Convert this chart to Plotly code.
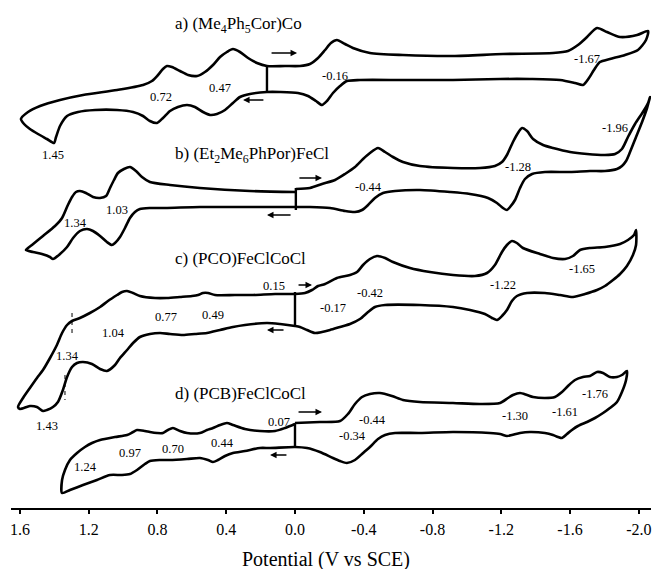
import plotly.graph_objects as go

# ---- data: potential (V vs SCE) and current (arbitrary units, traces offset vertically) ----
a_E = [0.163,0.058,-0.029,-0.087,-0.134,-0.175,-0.209,-0.244,-0.291,-0.337,-0.436,-0.628,-0.919,-1.210,-1.501,-1.588,-1.646,-1.699,-1.757,-1.815,-1.891,-1.990,-2.054,
       -2.042,-1.995,-1.920,-1.832,-1.774,-1.739,-1.710,-1.675,-1.629,-1.542,-1.367,-1.193,-0.919,-0.628,-0.378,-0.302,-0.262,-0.221,-0.186,-0.157,-0.122,-0.076,-0.017,0.087,0.163,
       0.262,0.320,0.361,0.407,0.454,0.494,0.535,0.582,0.628,0.681,0.727,0.768,0.803,0.844,0.884,0.942,1.035,1.163,1.262,1.326,1.367,1.390,1.402,1.443,1.495,1.542,1.576,1.594,
       1.553,1.483,1.367,1.233,1.035,0.884,0.832,0.797,0.768,0.745,0.716,0.669,0.622,0.570,0.524,0.477,0.436,0.396,0.361,0.320,0.273,0.221,0.163]
a_I = [442,442,442,444,450,458,465,468,464,460,455,453,452,454,455,457,463,471,480,476,471,473,477,
       468,458,453,449,446,438,430,423,425,428,429,429,428,428,428,427,422,415,407,403,407,412,415,416,416,
       414,411,405,398,394,393,396,401,403,401,397,390,385,387,392,396,398,398,396,392,382,371,365,369,374,379,384,389,
       396,402,408,413,418,423,427,433,439,442,441,437,433,432,436,443,451,456,459,456,450,445,442]

b_E = [-0.005,-0.087,-0.157,-0.233,-0.291,-0.349,-0.396,-0.436,-0.483,-0.524,-0.570,-0.628,-0.727,-0.919,-1.076,-1.163,-1.204,-1.233,-1.268,-1.297,-1.321,-1.350,-1.385,-1.443,-1.501,-1.600,-1.699,-1.803,-1.862,-1.902,-1.937,-1.978,-2.024,-2.054,-2.065,
       -2.048,-2.019,-1.984,-1.949,-1.926,-1.902,-1.873,-1.803,-1.716,-1.600,-1.454,-1.379,-1.338,-1.309,-1.280,-1.251,-1.233,-1.210,-1.175,-1.123,-1.018,-0.902,-0.727,-0.582,-0.512,-0.465,-0.425,-0.390,-0.349,-0.291,-0.204,-0.087,-0.005,
       0.262,0.553,0.756,0.844,0.902,0.931,0.960,0.989,1.018,1.047,1.065,1.094,1.134,1.175,1.210,1.251,1.291,1.326,1.367,1.408,1.425,1.472,1.524,1.565,
       1.530,1.466,1.396,1.355,1.321,1.297,1.274,1.251,1.216,1.175,1.134,1.099,1.076,1.053,1.030,0.995,0.960,0.925,0.890,0.844,0.727,0.553,0.262,-0.005]
b_I = [319,320,324,328,334,341,349,355,360,356,351,346,342,340,340,342,346,353,366,375,380,377,369,363,360,356,354,353,354,359,371,384,396,405,411,
       400,386,371,356,347,342,339,337,337,336,336,334,329,320,308,301,298,300,305,310,314,316,318,317,315,310,303,298,296,297,300,301,301,
       301,301,300,300,299,296,290,280,271,265,263,266,272,277,279,277,270,261,254,249,251,254,256,258,
       263,272,282,290,303,311,316,317,315,311,310,312,320,328,335,339,341,337,331,326,323,320,317,316]

c_E = [0.000,-0.058,-0.099,-0.134,-0.175,-0.244,-0.320,-0.361,-0.396,-0.436,-0.477,-0.524,-0.570,-0.669,-0.785,-0.919,-1.047,-1.117,-1.163,-1.204,-1.233,-1.262,-1.291,-1.326,-1.425,-1.501,-1.571,-1.617,-1.658,-1.716,-1.803,-1.891,-1.937,-1.972,-1.984,
       -1.984,-1.966,-1.931,-1.891,-1.850,-1.803,-1.757,-1.687,-1.617,-1.542,-1.454,-1.350,-1.291,-1.262,-1.233,-1.204,-1.175,-1.146,-1.105,-1.018,-0.919,-0.727,-0.524,-0.465,-0.425,-0.378,-0.320,-0.262,-0.204,-0.157,-0.116,-0.070,-0.029,0.000,
       0.087,0.163,0.291,0.361,0.436,0.512,0.582,0.652,0.727,0.785,0.844,0.902,0.942,0.977,1.018,1.047,1.094,1.134,1.181,1.233,1.268,1.297,1.326,1.350,1.379,1.408,1.443,1.466,1.501,1.542,1.600,
       1.611,1.582,1.542,1.501,1.466,1.425,1.385,1.355,1.326,1.297,1.251,1.193,1.134,1.088,1.035,1.006,0.977,0.942,0.902,0.814,0.745,0.669,0.599,0.564,0.535,0.506,0.465,0.349,0.244,0.116,0.000]
c_I = [214,215,218,222,224,230,233,236,243,249,252,250,246,240,236,233,232,235,243,256,263,267,265,260,254,250,249,252,258,260,261,264,268,273,278,
       263,253,242,234,228,222,218,214,211,213,215,215,212,207,198,192,188,190,194,198,201,203,203,201,196,189,184,181,178,176,175,178,181,182,
       184,185,183,181,178,175,174,173,174,175,174,171,165,158,150,143,137,139,144,146,145,141,131,118,106,101,98,97,101,102,99,
       101,110,120,130,138,150,163,175,183,187,190,195,201,207,213,216,217,215,212,210,210,211,212,213,215,215,213,213,213,214,214]

d_E = [0.000,-0.145,-0.262,-0.308,-0.349,-0.390,-0.436,-0.494,-0.564,-0.628,-0.727,-0.919,-1.076,-1.193,-1.239,-1.268,-1.309,-1.350,-1.385,-1.454,-1.512,-1.553,-1.588,-1.629,-1.675,-1.716,-1.757,-1.792,-1.832,-1.873,-1.902,-1.931,
       -1.926,-1.902,-1.873,-1.832,-1.792,-1.745,-1.699,-1.646,-1.611,-1.582,-1.553,-1.530,-1.501,-1.454,-1.367,-1.309,-1.262,-1.233,-1.193,-1.134,-0.919,-0.727,-0.582,-0.524,-0.483,-0.436,-0.396,-0.349,-0.302,-0.262,-0.221,-0.145,-0.070,0.000,
       0.145,0.204,0.291,0.361,0.407,0.448,0.477,0.506,0.553,0.628,0.727,0.785,0.844,0.873,0.919,0.960,1.006,1.076,1.152,1.233,1.309,1.355,
       1.355,1.338,1.309,1.268,1.222,1.181,1.134,1.047,0.977,0.942,0.919,0.873,0.844,0.803,0.768,0.739,0.710,0.669,0.628,0.553,0.512,0.477,0.436,0.396,0.361,0.291,0.204,0.116,0.058,0.000]
d_I = [85,86,87,94,104,111,114,115,112,108,106,105,104,105,110,113,115,113,111,110,111,116,122,128,131,132,136,135,131,131,133,137,
       128,116,106,100,95,90,86,82,78,74,70,71,73,75,76,75,73,72,74,75,76,75,75,73,69,61,55,48,45,47,50,56,60,61,
       60,60,57,55,52,48,46,48,50,49,48,48,47,44,38,34,33,33,28,23,18,15,
       28,38,48,55,61,65,68,71,73,76,78,77,76,75,75,78,80,77,75,75,78,80,83,85,83,79,77,77,80,84]

# initial-potential current steps (E, I_top, I_bottom)
start_E = [0.163, -0.005, 0.000, 0.000]
start_I_top = [443, 320, 216, 85]
start_I_bot = [415, 298, 181, 61]

# dashed markers in trace c
dash_E = [1.297, 1.338]
dash_I_top = [195, 133]
dash_I_bot = [175, 108]

compounds = ["a) (Me<sub>4</sub>Ph<sub>5</sub>Cor)Co",
             "b) (Et<sub>2</sub>Me<sub>6</sub>PhPor)FeCl",
             "c) (PCO)FeClCoCl",
             "d) (PCB)FeClCoCl"]
compound_I = [483, 353, 250, 115]

# peak potential labels: (text, E, I)
peak_labels = [
    ("0.72", 0.780, 411), ("0.47", 0.436, 420), ("1.45", 1.408, 353), ("-0.16", -0.233, 432), ("-1.67", -1.699, 449),
    ("1.34", 1.274, 285), ("1.03", 1.035, 298), ("-0.44", -0.425, 321), ("-1.28", -1.297, 341), ("-1.96", -1.862, 380),
    ("0.15", 0.122, 222), ("-0.17", -0.221, 200), ("0.77", 0.750, 191), ("0.49", 0.477, 193), ("1.04", 1.053, 175),
    ("1.34", 1.326, 152), ("1.43", 1.443, 82), ("-0.42", -0.436, 215), ("-1.22", -1.210, 223), ("-1.65", -1.670, 239),
    ("0.07", 0.093, 86), ("1.24", 1.216, 41), ("0.97", 0.960, 55), ("0.70", 0.710, 59), ("0.44", 0.419, 65),
    ("-0.44", -0.448, 88), ("-0.34", -0.332, 72), ("-1.30", -1.280, 92), ("-1.61", -1.571, 96), ("-1.76", -1.745, 114),
]

# scan direction arrows: (E_from, E_to, I)
arrows = [(0.145, -0.012, 455), (0.175, 0.302, 408),
          (-0.017, -0.157, 330), (0.017, 0.163, 293),
          (-0.012, -0.099, 223), (0.058, 0.163, 178),
          (-0.012, -0.157, 96), (0.041, 0.145, 53)]

tick_vals = [1.6, 1.2, 0.8, 0.4, 0.0, -0.4, -0.8, -1.2, -1.6, -2.0]
tick_text = ["1.6", "1.2", "0.8", "0.4", "0.0", "-0.4", "-0.8", "-1.2", "-1.6", "-2.0"]

FONT = "Liberation Serif"

fig = go.Figure()
for E, I in [(a_E, a_I), (b_E, b_I), (c_E, c_I), (d_E, d_I)]:
    fig.add_trace(go.Scatter(x=E, y=I, mode="lines",
                             line=dict(color="black", width=2.6, shape="spline", smoothing=0.7),
                             hoverinfo="skip", showlegend=False))
for e, t, b in zip(start_E, start_I_top, start_I_bot):
    fig.add_trace(go.Scatter(x=[e, e], y=[t, b], mode="lines",
                             line=dict(color="black", width=2.4), showlegend=False, hoverinfo="skip"))
for e, t, b in zip(dash_E, dash_I_top, dash_I_bot):
    fig.add_trace(go.Scatter(x=[e, e], y=[t, b], mode="lines",
                             line=dict(color="black", width=1, dash="4px,4px"), showlegend=False, hoverinfo="skip"))

ann = []
for txt, yy in zip(compounds, compound_I):
    ann.append(dict(x=0.71, y=yy, xref="x", yref="y", text=txt, showarrow=False,
                    xanchor="left", yanchor="middle", font=dict(family=FONT, size=17, color="black")))
for txt, e, i in peak_labels:
    ann.append(dict(x=e, y=i, xref="x", yref="y", text=txt, showarrow=False,
                    xanchor="center", yanchor="middle", font=dict(family=FONT, size=12.5, color="black")))
for e0, e1, i in arrows:
    ann.append(dict(x=e1, y=i, ax=e0, ay=i, xref="x", yref="y", axref="x", ayref="y",
                    text="", showarrow=True, arrowhead=2, arrowsize=1, arrowwidth=1.3, arrowcolor="black"))
ann.append(dict(x=-0.18, y=0, xref="x", yref="paper", yshift=-51, text="Potential (V vs SCE)",
                showarrow=False, xanchor="center", yanchor="middle",
                font=dict(family=FONT, size=20, color="black")))

fig.update_layout(
    width=652, height=569,
    margin=dict(l=11, r=1, t=0, b=61),
    paper_bgcolor="white", plot_bgcolor="white",
    font=dict(family=FONT, color="black"),
    annotations=ann,
    xaxis=dict(range=[1.652, -2.071], showgrid=False, zeroline=False,
               showline=True, linecolor="black", linewidth=1.6,
               ticks="outside", ticklen=4, tickwidth=1.5, tickcolor="black",
               tickvals=tick_vals, ticktext=tick_text, ticklabelstandoff=2,
               tickfont=dict(family=FONT, size=16, color="black")),
    yaxis=dict(range=[0, 508], visible=False, showgrid=False, zeroline=False),
)

fig.write_html("out.html")
